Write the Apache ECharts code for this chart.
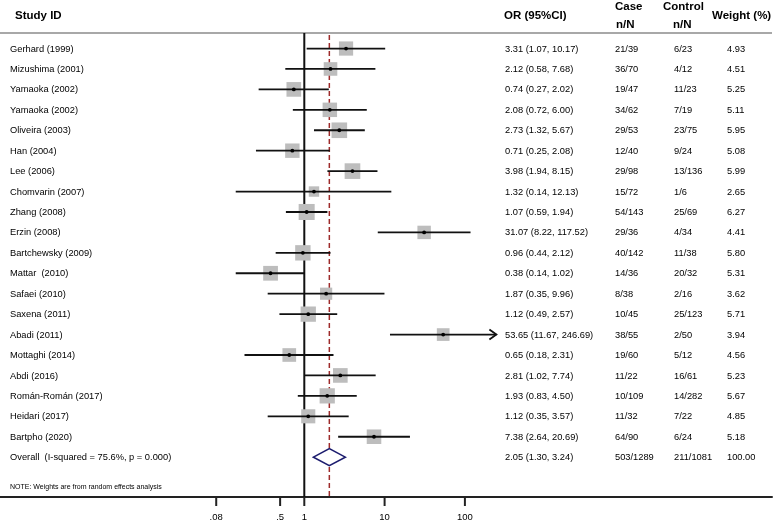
<!DOCTYPE html>
<html><head><meta charset="utf-8">
<script src="https://cdn.jsdelivr.net/npm/echarts@6/dist/echarts.min.js"></script>
<style>html,body{margin:0;padding:0;background:#fff}#c{width:778px;height:521px}</style>
</head><body><div id="c"></div>
<script>
// ---------- data ----------
const studies = ["Gerhard (1999)","Mizushima (2001)","Yamaoka (2002)","Yamaoka (2002)","Oliveira (2003)","Han (2004)","Lee (2006)","Chomvarin (2007)","Zhang (2008)","Erzin (2008)","Bartchewsky (2009)","Mattar  (2010)","Safaei (2010)","Saxena (2011)","Abadi (2011)","Mottaghi (2014)","Abdi (2016)","Román-Román (2017)","Heidari (2017)","Bartpho (2020)"];
const orValues = [3.31,2.12,0.74,2.08,2.73,0.71,3.98,1.32,1.07,31.07,0.96,0.38,1.87,1.12,53.65,0.65,2.81,1.93,1.12,7.38];
const ciLow    = [1.07,0.58,0.27,0.72,1.32,0.25,1.94,0.14,0.59,8.22,0.44,0.14,0.35,0.49,11.67,0.18,1.02,0.83,0.35,2.64];
const ciHigh   = [10.17,7.68,2.02,6.00,5.67,2.08,8.15,12.13,1.94,117.52,2.12,1.02,9.96,2.57,246.69,2.31,7.74,4.50,3.57,20.69];
const caseN    = ["21/39","36/70","19/47","34/62","29/53","12/40","29/98","15/72","54/143","29/36","40/142","14/36","8/38","10/45","38/55","19/60","11/22","10/109","11/32","64/90"];
const controlN = ["6/23","4/12","11/23","7/19","23/75","9/24","13/136","1/6","25/69","4/34","11/38","20/32","2/16","25/123","2/50","5/12","16/61","14/282","7/22","6/24"];
const weights  = [4.93,4.51,5.25,5.11,5.95,5.08,5.99,2.65,6.27,4.41,5.80,5.31,3.62,5.71,3.94,4.56,5.23,5.67,4.85,5.18];

const overallLabel = "Overall  (I-squared = 75.6%, p = 0.000)";
const overallOR = 2.05, overallLow = 1.30, overallHigh = 3.24;
const overallCase = "503/1289", overallControl = "211/1081", overallWeight = 100.00;

const tickValues = [0.08, 0.5, 1, 10, 100];
const tickLabels = [".08", ".5", "1", "10", "100"];
const nullValue = 1;
const arrowBeyond = 200;
const noteText = "NOTE: Weights are from random effects analysis";

// ---------- layout ----------
const FONT = '"Liberation Sans", Arial, sans-serif';
const px1 = 304.3, decade = 80.3, gridW = 772;
const xMin = Math.pow(10, -px1 / decade);
const xMax = Math.pow(10, (gridW - px1) / decade);
const yMin = -0.76, yMax = 21.95;
const nRows = studies.length;
const col = { study: 10, or: 505, caseC: 615, control: 674, weight: 727 };
const dataFont = 9.3;

const fmt = v => v.toFixed(2);
const studyData = studies.map((s, i) => [orValues[i], i, ciLow[i], ciHigh[i], weights[i]]);
const tableRows = studies.map((s, i) => ({
  value: [1, i],
  cells: [s, `${fmt(orValues[i])} (${fmt(ciLow[i])}, ${fmt(ciHigh[i])})`, caseN[i], controlN[i], fmt(weights[i])]
}));
tableRows.push({
  value: [1, nRows],
  cells: [overallLabel, `${fmt(overallOR)} (${fmt(overallLow)}, ${fmt(overallHigh)})`, overallCase, overallControl, fmt(overallWeight)]
});

function txt(x, y, text, opts) {
  return { type: 'text', style: Object.assign({ x, y, text, fill: '#000', fontFamily: FONT, fontSize: dataFont, align: 'left', verticalAlign: 'middle' }, opts || {}) };
}

const chart = echarts.init(document.getElementById('c'), null, { renderer: 'canvas' });
chart.setOption({
  backgroundColor: '#fff',
  animation: false,
  grid: { left: 0, right: 778 - gridW, top: 33, bottom: 24 },
  xAxis: {
    type: 'log', logBase: 10, min: xMin, max: xMax, position: 'bottom',
    axisLine: { show: true, onZero: false, lineStyle: { color: '#222', width: 2 } },
    axisTick: { show: false }, axisLabel: { show: false }, splitLine: { show: false }
  },
  yAxis: { type: 'value', inverse: true, min: yMin, max: yMax, show: false },
  graphic: [
    { type: 'line', shape: { x1: 0, y1: 33, x2: gridW, y2: 33 }, style: { stroke: '#a8a8a8', lineWidth: 2 }, z: 1 },
    txt(15, 16, 'Study ID', { fontWeight: 'bold', fontSize: 11.5 }),
    txt(504, 16, 'OR (95%CI)', { fontWeight: 'bold', fontSize: 11.5 }),
    txt(615, 7, 'Case', { fontWeight: 'bold', fontSize: 11.5 }),
    txt(616, 25, 'n/N', { fontWeight: 'bold', fontSize: 11.5 }),
    txt(663, 7, 'Control', { fontWeight: 'bold', fontSize: 11.5 }),
    txt(673, 25, 'n/N', { fontWeight: 'bold', fontSize: 11.5 }),
    txt(712, 16, 'Weight (%)', { fontWeight: 'bold', fontSize: 11.5 }),
    txt(10, 487, noteText, { fontSize: 7 })
  ].map(g => Object.assign(g, { z: g.z || 10 })),
  series: [
    { // reference lines
      type: 'custom', data: [[nullValue, 0, 0], [overallOR, 0, 1]], z: 1,
      renderItem: (p, api) => {
        const a = api.coord([api.value(0), yMin]), b = api.coord([api.value(0), yMax]);
        const dashed = api.value(2) === 1;
        return { type: 'line', shape: { x1: a[0], y1: a[1] + (dashed ? 2 : 0), x2: b[0], y2: b[1] },
          style: dashed ? { stroke: '#9e2b2b', lineWidth: 1.5, lineDash: [5, 3] } : { stroke: '#111', lineWidth: 2 } };
      }
    },
    { // studies
      type: 'custom', data: studyData, z: 3, encode: { x: 0, y: 1 },
      renderItem: (p, api) => {
        const i = api.value(1);
        const c = api.coord([api.value(0), i]);
        const l = api.coord([api.value(2), i]);
        const h = api.coord([api.value(3), i]);
        const s = 6.4 * Math.sqrt(api.value(4));
        const kids = [
          { type: 'rect', shape: { x: c[0] - s / 2, y: c[1] - s / 2, width: s, height: s }, style: { fill: '#bdbdbd' } },
          { type: 'line', shape: { x1: l[0], y1: l[1], x2: h[0], y2: h[1] }, style: { stroke: '#111', lineWidth: 1.8 } },
          { type: 'circle', shape: { cx: c[0], cy: c[1], r: 1.9 }, style: { fill: '#000' } }
        ];
        if (api.value(3) > arrowBeyond) {
          kids.push({ type: 'polyline', shape: { points: [[h[0] - 7, h[1] - 5], [h[0], h[1]], [h[0] - 7, h[1] + 5]] }, style: { stroke: '#111', lineWidth: 1.8, fill: null } });
        }
        return { type: 'group', children: kids };
      }
    },
    { // overall diamond
      type: 'custom', data: [[overallOR, nRows, overallLow, overallHigh]], z: 4,
      renderItem: (p, api) => {
        const i = api.value(1);
        const c = api.coord([api.value(0), i]);
        const l = api.coord([api.value(2), i]);
        const h = api.coord([api.value(3), i]);
        return { type: 'polygon', shape: { points: [[l[0], l[1]], [c[0], c[1] - 8.5], [h[0], h[1]], [c[0], c[1] + 8.5]] },
          style: { fill: '#fff', stroke: '#1c1c6e', lineWidth: 1.6 } };
      }
    },
    { // table text
      type: 'custom', data: tableRows, z: 5,
      renderItem: (p, api) => {
        const y = api.coord([1, api.value(1)])[1] + 0.5;
        const cells = tableRows[p.dataIndex].cells;
        const xs = [col.study, col.or, col.caseC, col.control, col.weight];
        return { type: 'group', children: cells.map((t, k) => txt(xs[k], y, t)) };
      }
    },
    { // axis ticks and labels
      type: 'custom', data: tickValues.map((v, k) => [v, yMax, k]), z: 5,
      renderItem: (p, api) => {
        const b = api.coord([api.value(0), yMax]);
        return { type: 'group', children: [
          { type: 'line', shape: { x1: b[0], y1: b[1], x2: b[0], y2: b[1] + 9 }, style: { stroke: '#222', lineWidth: 2 } },
          txt(b[0], b[1] + 20, tickLabels[api.value(2)], { align: 'center', fontSize: 9.5 })
        ] };
      }
    }
  ]
});
</script>
</body></html>
